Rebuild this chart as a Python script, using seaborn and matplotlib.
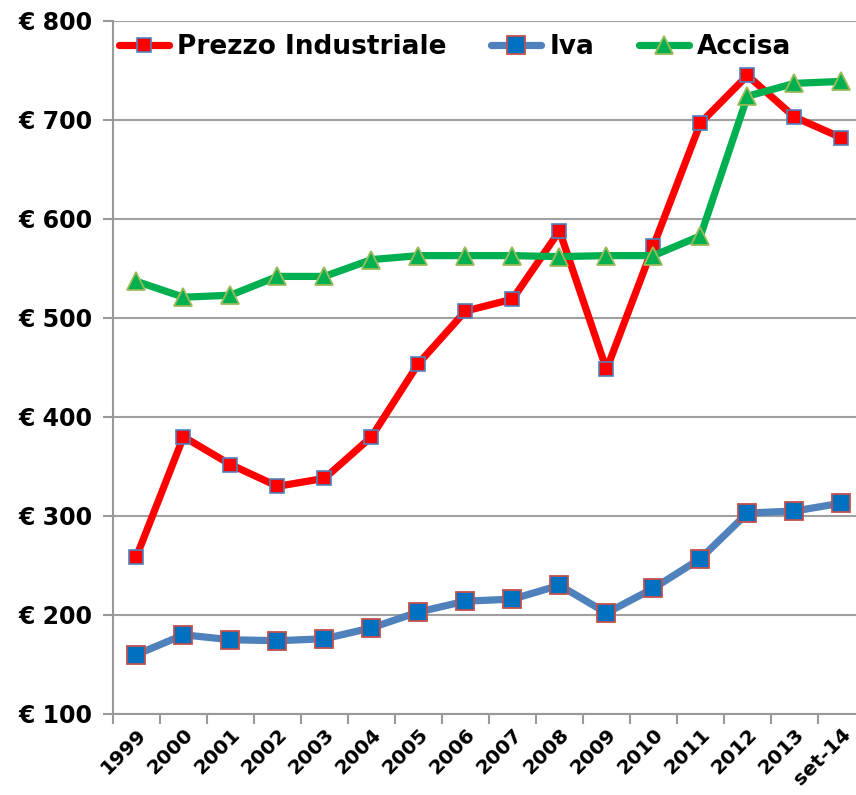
import matplotlib
matplotlib.use("Agg")
import matplotlib.pyplot as plt
import seaborn as sns
import numpy as np

# Data
anni = ["1999", "2000", "2001", "2002", "2003", "2004", "2005", "2006",
        "2007", "2008", "2009", "2010", "2011", "2012", "2013", "set-14"]
prezzo_industriale = [259, 380, 352, 330, 338, 380, 454, 507,
                      519, 588, 448, 573, 697, 745, 703, 682]
iva = [160, 180, 175, 174, 176, 187, 203, 214,
       216, 230, 202, 227, 257, 303, 305, 313]
accisa = [537, 521, 523, 542, 542, 559, 563, 563,
          563, 562, 563, 563, 583, 724, 737, 739]
y_ticks = [100, 200, 300, 400, 500, 600, 700, 800]

sns.set_style("white")
plt.rcParams['font.family'] = ['DejaVu Sans']
plt.rcParams['font.weight'] = 'bold'
plt.rcParams['text.color'] = 'black'

fig = plt.figure(figsize=(8.56, 7.95), dpi=100)
ax = fig.add_axes([0.132, 0.1019, 0.8785, 0.8717])

sns.lineplot(x=anni, y=prezzo_industriale, ax=ax, color="#FF0000", linewidth=5.2,
             marker="s", markersize=9.5, markerfacecolor="#FF0000",
             markeredgecolor="#4F81BD", markeredgewidth=1.2,
             label="Prezzo Industriale", zorder=3)
sns.lineplot(x=anni, y=iva, ax=ax, color="#4F81BD", linewidth=5.2,
             marker="s", markersize=13, markerfacecolor="#0070C0",
             markeredgecolor="#C0504D", markeredgewidth=1.3,
             label="Iva", zorder=3)
sns.lineplot(x=anni, y=accisa, ax=ax, color="#00B050", linewidth=5.2,
             marker="^", markersize=12.5, markerfacecolor="#00B050",
             markeredgecolor="#9BBB59", markeredgewidth=1.3,
             label="Accisa", zorder=4)

ax.set_ylim(100, 800)
ax.set_xlim(-0.5, len(anni) - 0.5)
ax.set_yticks(y_ticks)
ax.set_yticklabels([f"€ {v}" for v in y_ticks], fontsize=17, fontweight="bold",
                   color="black")
ax.set_xticks(range(len(anni)))
ax.set_xticklabels(anni, rotation=45, ha="right", rotation_mode="anchor",
                   fontsize=14.5, fontweight="bold", color="black")
ax.set_xticks(np.arange(-0.5, len(anni), 1), minor=True)
ax.tick_params(axis="x", which="major", length=0, pad=8)
ax.tick_params(axis="x", which="minor", length=7, width=1.5, color="#999999",
               direction="out", bottom=True)
ax.tick_params(axis="y", length=7, width=1.5, color="#999999",
               direction="out", left=True, pad=8)

ax.grid(axis="y", color="#A0A0A0", linewidth=1.5)
ax.set_axisbelow(True)
for side in ["top", "right"]:
    ax.spines[side].set_visible(False)
for side in ["left", "bottom"]:
    ax.spines[side].set_color("#999999")
    ax.spines[side].set_linewidth(1.5)
ax.set_xlabel("")
ax.set_ylabel("")

leg = ax.legend(loc="upper left", bbox_to_anchor=(-0.01, 1.0), ncol=3, frameon=False,
                prop={"size": 19, "weight": "bold"}, handlelength=1.9,
                handletextpad=0.3, columnspacing=1.7, borderaxespad=0.1)
for t in leg.get_texts():
    t.set_color("black")

fig.savefig("out.png", dpi=100)
